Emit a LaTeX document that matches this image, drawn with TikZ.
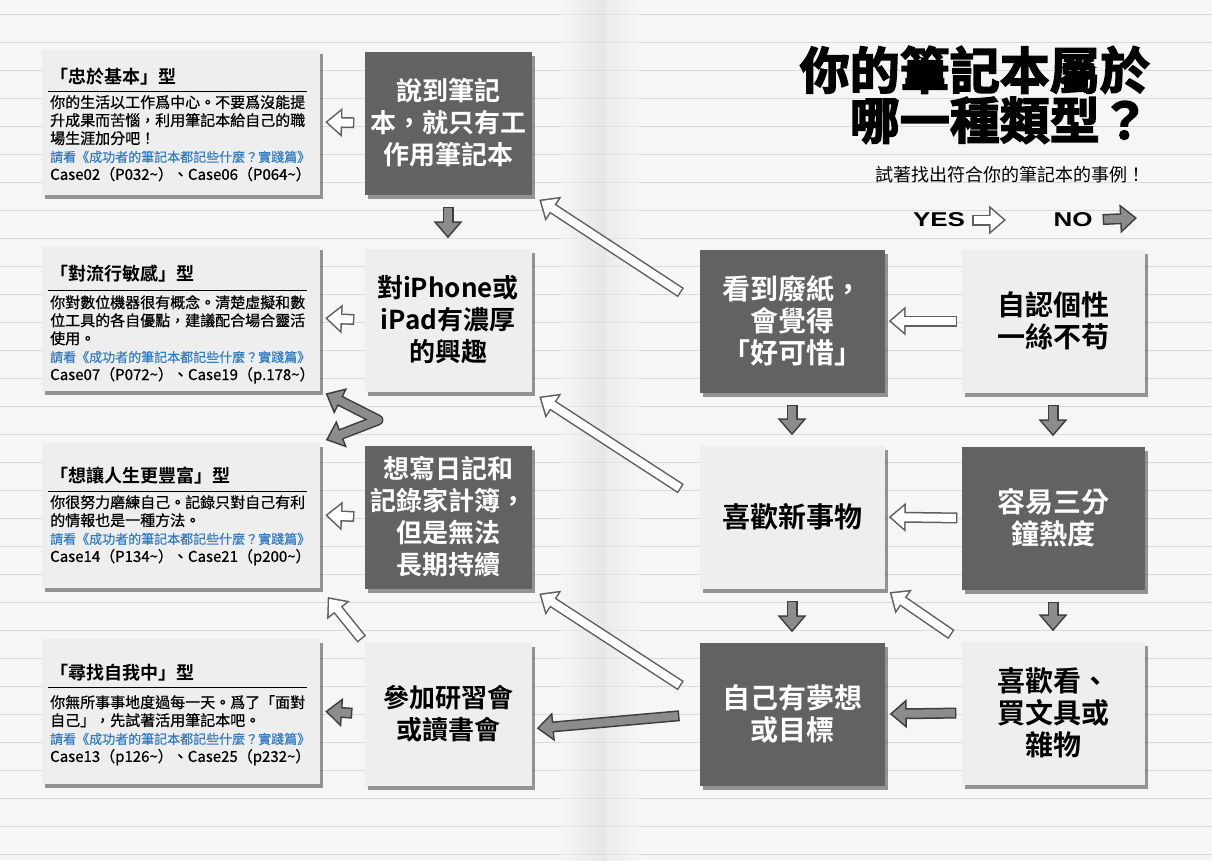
\documentclass[tikz,border=0pt]{standalone}
\usepackage{fontspec}
\setmainfont{Noto Sans CJK TC}[BoldFont={Noto Sans CJK TC Bold}]
\newfontfamily\titlefont{Noto Sans CJK TC Bold}[FakeBold=3]
\newfontfamily\bodyfont{Noto Sans CJK TC}[FakeBold=0.7]
\newfontfamily\legendfont{Liberation Sans}[FakeStretch=1.3]
\usetikzlibrary{positioning, arrows.meta, shadows}

\definecolor{pagebg}{RGB}{246,246,246}
\definecolor{ruleline}{RGB}{218,218,218}
\definecolor{boxdark}{RGB}{98,98,98}
\definecolor{boxlight}{RGB}{238,238,238}
\definecolor{linkblue}{RGB}{52,125,196}
\definecolor{arrowline}{RGB}{95,95,95}
\definecolor{nodark}{RGB}{60,60,60}
\definecolor{nofill}{RGB}{140,140,140}

\tikzset{
  notip/.tip={Triangle[width=28pt, length=17pt]},
  notipin/.tip={Triangle[width=21.6pt, length=13.1pt]},
  box/.style={inner sep=0pt, minimum height=143pt, align=center,
    font=\bfseries\fontsize{26}{32}\selectfont,
    drop shadow={shadow xshift=3pt, shadow yshift=-4pt, opacity=0.4, fill=black}},
  darkbox/.style={box, fill=boxdark, text=white},
  lightbox/.style={box, fill=boxlight, text=black},
  bigtext/.style={font=\bfseries\fontsize{28}{32}\selectfont},
  card/.style={inner sep=0pt, minimum width=278pt, minimum height=145pt, fill=boxlight,
    drop shadow={shadow xshift=3pt, shadow yshift=-4pt, opacity=0.4, fill=black}},
  cardtitle/.style={anchor=base west, inner sep=0pt, font=\bfseries\fontsize{18}{22}\selectfont},
  cardtext/.style={anchor=north west, inner sep=0pt, align=left, font=\bodyfont\fontsize{15}{18}\selectfont},
  cardrule/.style={black, line width=0.8pt},
  yesarrow/.style 2 args={draw=arrowline, line width=11pt, -notip, shorten <=#1, shorten >=#2,
    postaction={draw=white, line width=8pt, -notipin, shorten <=#1+1.5pt, shorten >=#2+2.4pt}},
  noarrow/.style 2 args={draw=nodark, line width=11pt, -notip, shorten <=#1, shorten >=#2,
    postaction={draw=nofill, line width=8pt, -notipin, shorten <=#1+1.5pt, shorten >=#2+2.4pt}},
  nofork/.style={draw=nodark, line width=11pt, line join=round, notip-notip, shorten <=6pt, shorten >=6pt,
    postaction={draw=nofill, line width=8pt, notipin-notipin, shorten <=8.4pt, shorten >=8.4pt}},
}

\begin{document}
\begin{tikzpicture}[x=1pt, y=-1pt]
  % notebook page
  \fill[pagebg] (0,0) rectangle (1212,860);
  \useasboundingbox (0,0) rectangle (1212,860);
  \foreach \y in {14,42,...,854}
    \draw[ruleline, line width=0.5pt] (0,\y) -- (1212,\y);
  \shade[left color=pagebg, right color=black!14, opacity=0.6] (560,0) rectangle (606,860);
  \shade[left color=black!10, right color=pagebg, opacity=0.6] (606,0) rectangle (640,860);

  % title
  \node[anchor=base east, inner sep=0pt, font=\titlefont\fontsize{50}{50}\selectfont] (title) at (1150,89) {你的筆記本屬於};
  \node[anchor=base east, inner sep=0pt, font=\titlefont\fontsize{50}{50}\selectfont] (titlesecond) at (1150,139) {哪一種類型？};
  \node[anchor=base east, inner sep=0pt, font=\fontsize{18}{20}\selectfont] (subtitle) at (1146,181) {試著找出符合你的筆記本的事例！};

  % legend
  \node[inner sep=0pt, font=\legendfont\bfseries\fontsize{20}{20}\selectfont] (yes) at (939,220) {YES};
  \node[inner sep=0pt, font=\legendfont\bfseries\fontsize{20}{20}\selectfont] (no) at (1073,220) {NO};
  \coordinate (yesend) at (1006,220);
  \coordinate (noend) at (1137,218);
  \draw[yesarrow={7pt}{0pt}] (yes.east) -- (yesend);
  \draw[noarrow={10pt}{0pt}] (no.east) -- (noend);

  % result cards
  \node[card] (card1) at (181,122) {};
  \node[cardtitle] (card1title) at (50,83) {「忠於基本」型};
  \draw[cardrule] (48,91) -- (307,91);
  \node[cardtext] (card1text) at (50,95) {你的生活以工作爲中心。不要爲沒能提\\升成果而苦惱，利用筆記本給自己的職\\場生涯加分吧！\\\textcolor{linkblue}{\fontsize{13}{18}\selectfont 請看《成功者的筆記本都記些什麼？實踐篇》}\\Case02（P032\textasciitilde）、Case06（P064\textasciitilde）};

  \node[card] (card2) at (181,318) {};
  \node[cardtitle] (card2title) at (50,280) {「對流行敏感」型};
  \draw[cardrule] (48,290) -- (307,290);
  \node[cardtext] (card2text) at (50,295) {你對數位機器很有概念。清楚虛擬和數\\位工具的各自優點，建議配合場合靈活\\使用。\\\textcolor{linkblue}{\fontsize{13}{18}\selectfont 請看《成功者的筆記本都記些什麼？實踐篇》}\\Case07（P072\textasciitilde）、Case19（p.178\textasciitilde）};

  \node[card] (card3) at (181,515) {};
  \node[cardtitle] (card3title) at (50,482) {「想讓人生更豐富」型};
  \draw[cardrule] (48,491) -- (307,491);
  \node[cardtext] (card3text) at (50,495) {你很努力磨練自己。記錄只對自己有利\\的情報也是一種方法。\\\textcolor{linkblue}{\fontsize{13}{18}\selectfont 請看《成功者的筆記本都記些什麼？實踐篇》}\\Case14（P134\textasciitilde）、Case21（p200\textasciitilde）};

  \node[card] (card4) at (181,711) {};
  \node[cardtitle] (card4title) at (50,679) {「尋找自我中」型};
  \draw[cardrule] (48,687) -- (307,687);
  \node[cardtext] (card4text) at (50,695) {你無所事事地度過每一天。爲了「面對\\自己」，先試著活用筆記本吧。\\\textcolor{linkblue}{\fontsize{13}{18}\selectfont 請看《成功者的筆記本都記些什麼？實踐篇》}\\Case13（p126\textasciitilde）、Case25（p232\textasciitilde）};

  % question boxes
  \node[darkbox, minimum width=167pt] (worknote) at (448,123) {說到筆記\\本，就只有工\\作用筆記本};
  \node[lightbox, minimum width=167pt] (gadget) at (448,320) {對iPhone或\\iPad有濃厚\\的興趣};
  \node[darkbox, minimum width=167pt] (diary) at (448,517) {想寫日記和\\記錄家計簿，\\但是無法\\長期持續};
  \node[lightbox, minimum width=167pt] (seminar) at (448,714) {參加研習會\\或讀書會};

  \node[darkbox, bigtext, minimum width=185pt] (wastepaper) at (792,321) {看到廢紙，\\會覺得\\「好可惜」};
  \node[lightbox, bigtext, minimum width=185pt] (novelty) at (792,517) {喜歡新事物};
  \node[darkbox, bigtext, minimum width=185pt] (dream) at (792,714) {自己有夢想\\或目標};

  \node[lightbox, bigtext, minimum width=183pt] (isolated) at (1053,321) {自認個性\\一絲不苟};
  \node[darkbox, bigtext, minimum width=183pt] (fickle) at (1053,518) {容易三分\\鐘熱度};
  \node[lightbox, bigtext, minimum width=183pt] (stationery) at (1053,713) {喜歡看、\\買文具或\\雜物};

  % yes arrows
  \draw[yesarrow={4pt}{4pt}] (isolated.west) -- (wastepaper.east);
  \draw[yesarrow={4pt}{4pt}] (fickle.west) -- (novelty.east);
  \draw[yesarrow={12pt}{6pt}] (stationery.north west) -- (novelty.south east);
  \draw[yesarrow={22pt}{9pt}] (wastepaper.170) -- (worknote.south east);
  \draw[yesarrow={22pt}{9pt}] (novelty.170) -- (gadget.south east);
  \draw[yesarrow={22pt}{9pt}] (dream.170) -- (diary.south east);
  \draw[yesarrow={10pt}{5pt}] (worknote.west) -- (card1.east);
  \draw[yesarrow={10pt}{5pt}] (gadget.west) -- (card2.east);
  \draw[yesarrow={10pt}{5pt}] (diary.west) -- (card3.east);
  \draw[yesarrow={4pt}{12pt}] (seminar.north west) -- (card3.south east);

  % no arrows
  \draw[noarrow={12pt}{10pt}] (isolated.south) -- (fickle.north);
  \draw[noarrow={12pt}{10pt}] (fickle.south) -- (stationery.north);
  \draw[noarrow={12pt}{10pt}] (wastepaper.south) -- (novelty.north);
  \draw[noarrow={12pt}{10pt}] (novelty.south) -- (dream.north);
  \draw[noarrow={12pt}{10pt}] (worknote.south) -- (gadget.north);
  \draw[noarrow={5pt}{5pt}] (stationery.west) -- (dream.east);
  \draw[noarrow={20pt}{5pt}] (dream.west) -- (seminar.350);
  \draw[noarrow={12pt}{5pt}] (seminar.west) -- (card4.east);
  \coordinate (fork) at (378,420);
  \draw[nofork] (card2.south east) -- (fork) -- (card3.north east);
\end{tikzpicture}
\end{document}
